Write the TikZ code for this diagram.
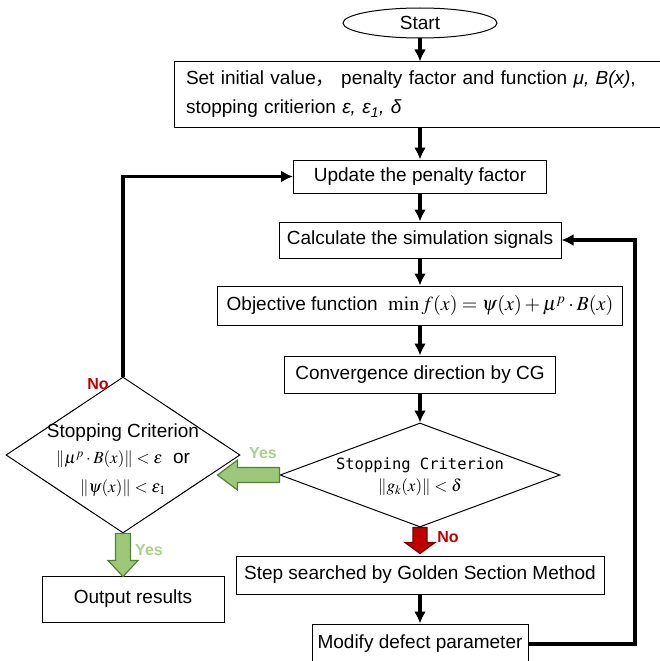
\documentclass[tikz,border=0pt]{standalone}
\usepackage{mathptmx}
\usepackage[no-math]{fontspec}
\setmainfont{Liberation Sans}
\newfontfamily\cjk{Noto Sans CJK SC}
\newfontfamily\monofont{DejaVu Sans Mono}
\usetikzlibrary{calc,shapes,arrows,arrows.meta}
\definecolor{yesgreen}{RGB}{169,209,142}
\definecolor{gfill}{RGB}{157,200,122}
\definecolor{gline}{RGB}{84,130,53}
\definecolor{rfill}{RGB}{192,0,0}
\definecolor{rline}{RGB}{120,0,0}
\definecolor{nored}{RGB}{192,0,0}

\begin{document}
\begin{tikzpicture}[x=1pt,y=-1pt,font=\fontsize{19}{23}\selectfont,
    box/.style={draw,line width=1pt,inner sep=0pt},
    crit/.style={draw,diamond,line width=1pt,inner sep=0pt},
    arr/.style={line width=3.2pt,-{Latex[length=12pt,width=12pt]}},
    yeslab/.style={text=yesgreen,font=\fontsize{16}{16}\selectfont\bfseries},
    nolab/.style={text=nored,font=\fontsize{16}{16}\selectfont\bfseries},
    gblock/.style={draw=gline,fill=gfill,line width=1.2pt},
    rblock/.style={draw=rline,fill=rfill,line width=1.2pt}]
        \useasboundingbox (0,0) rectangle (660,661);
        \node[box,ellipse,minimum width=154pt,minimum height=30pt] (start) at (420,23) {Start};
        \node[box,text width=464pt,inner xsep=12pt,minimum height=65pt,align=left,
            font=\fontsize{19}{29}\selectfont] (init) at (418,94.5)
            {Set initial value{\cjk ，} penalty factor and function \textit{μ, B(x)},\\
             stopping critierion \textit{ε, ε}\textsubscript{\textit{1}}\textit{, δ}};
        \node[box,minimum width=253pt,minimum height=33pt] (update) at (420,176.5) {Update the penalty factor};
        \node[box,minimum width=282pt,minimum height=36pt] (calc) at (420,240) {Calculate the simulation signals};
        \node[box,minimum width=405pt,minimum height=39pt] (obj) at (420,305.5)
            {Objective function\ \ {\fontsize{20}{23}\selectfont$\min f(x)=\psi(x)+\mu^{p}\cdot B(x)$}};
        \node[box,minimum width=271pt,minimum height=37pt] (conv) at (420,374.5) {Convergence direction by CG};
        \node[crit,minimum width=280pt,minimum height=104pt] (crit2) at (420,475) {};
        \node[align=center,font=\fontsize{17}{22}\selectfont] (crit2txt) at (420,477)
            {{\monofont\fontsize{15.5}{22}\selectfont Stopping Criterion}\\ $\left\|g_k(x)\right\|<\delta$};
        \node[box,minimum width=368pt,minimum height=38pt] (step) at (420,575) {Step searched by Golden Section Method};
        \node[box,minimum width=216pt,minimum height=40pt] (modify) at (420,644) {Modify defect parameter};
        \node[crit,minimum width=234pt,minimum height=156pt] (crit1) at (123,455) {};
        \node[align=center,font=\fontsize{19}{26}\selectfont] (crit1txt) at (123,460)
            {Stopping Criterion\\ {\fontsize{17}{26}\selectfont$\left\|\mu^{p}\cdot B(x)\right\|<\varepsilon$}\ \ or\\[3pt]
             {\fontsize{17}{26}\selectfont$\left\|\psi(x)\right\|<\varepsilon_{1}$}};
        \node[box,minimum width=182pt,minimum height=46pt] (output) at (133,599) {Output results};
        \coordinate (rx) at (635,643);

        \draw[arr] (start.south) -- (start.south |- init.north);
        \draw[arr] (init.south -| update) -- (update);
        \draw[arr] (update) -- (calc);
        \draw[arr] (calc) -- (obj);
        \draw[arr] (obj) -- (conv);
        \draw[arr] (conv) -- (crit2);
        \draw[arr] (step) -- (modify);
        \draw[arr] (modify.east) -| (rx |- calc.east) -- (calc.east);
        \draw[arr] (crit1.north) |- (update.west);

        \draw[gblock] (crit2.west) ++(0,-7.5) -- ++(-42,0) -- ++(0,-7.5) -- ++(-20,15)
            -- ++(20,15) -- ++(0,-7.5) -- ++(42,0) -- cycle;
        \draw[gblock] (crit1.south) ++(-7.5,0) -- ++(0,27) -- ++(-7.5,0) -- ++(15,16)
            -- ++(15,-16) -- ++(-7.5,0) -- ++(0,-27) -- cycle;
        \draw[rblock] (crit2.south) ++(-7,0) -- ++(0,15) -- ++(-8,0) -- ++(15,11)
            -- ++(15,-11) -- ++(-8,0) -- ++(0,-15) -- cycle;

        \node[nolab] (no1) at (98,384) {No};
        \node[yeslab] (yes1) at (263,453) {Yes};
        \node[yeslab] (yes2) at (149,550) {Yes};
        \node[nolab] (no2) at (448,537) {No};
    \end{tikzpicture}
\end{document}
